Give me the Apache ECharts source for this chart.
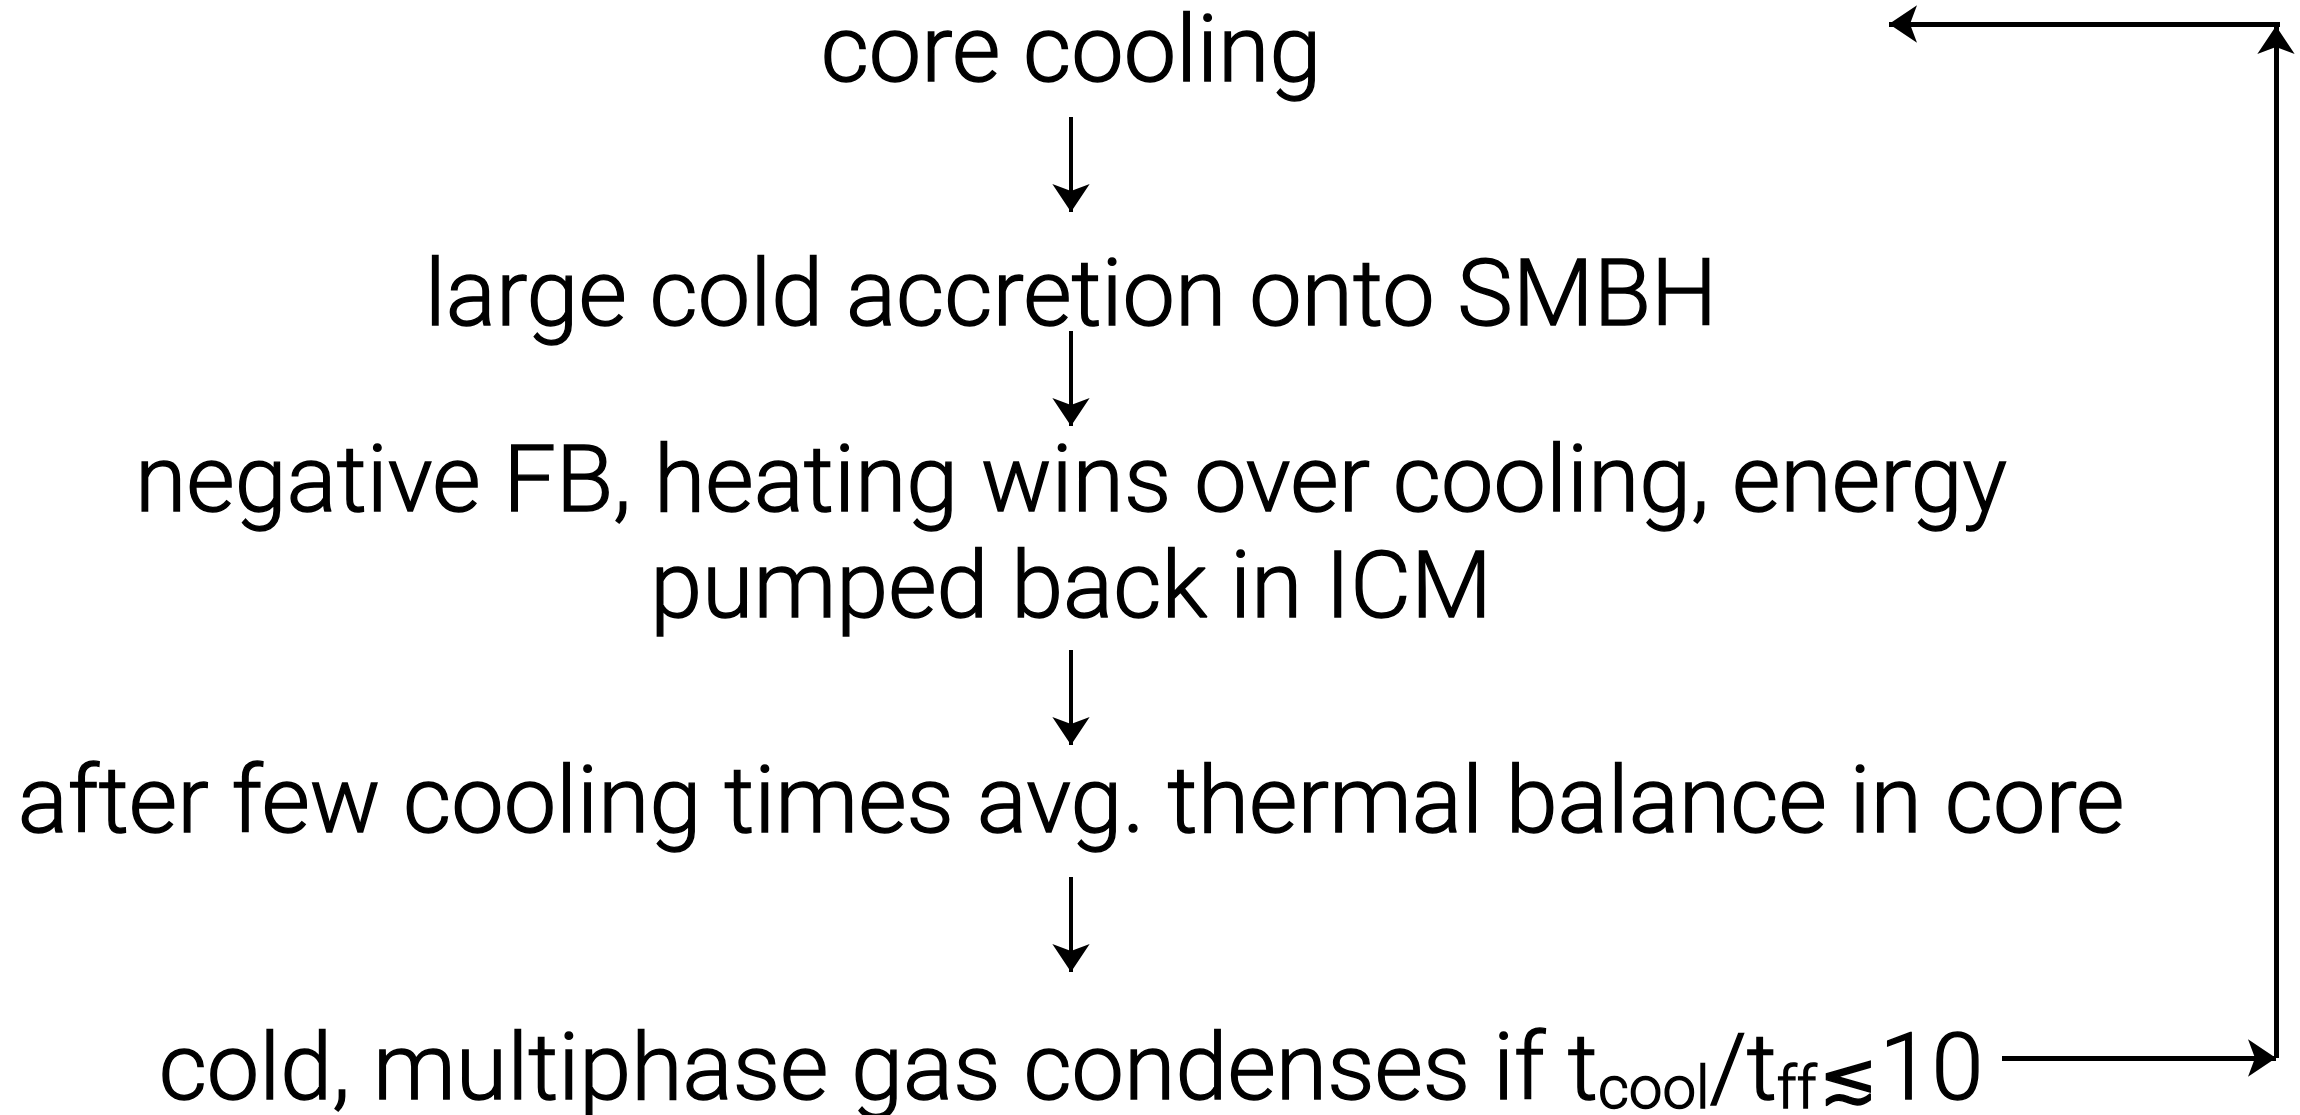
<!DOCTYPE html>
<html>
<head>
<meta charset="utf-8">
<title>core cooling cycle</title>
<script src="https://cdn.jsdelivr.net/npm/echarts@6/dist/echarts.min.js"></script>
<style>
    html, body { margin: 0; padding: 0; background: #fff; }
    #chart { width: 2300px; height: 1115px; }
</style>
</head>
<body>
<div id="chart"></div>
<script>
// steps of the cycle, top to bottom (the last one has rich-text subscripts)
const STEPS = [
    'core cooling',
    'large cold accretion onto SMBH',
    'negative FB, heating wins over cooling, energy',
    'pumped back in ICM',
    'after few cooling times avg. thermal balance in core',
    '{m|cold, multiphase gas condenses if t}{s|cool}{m|/t}{s|ff}{le|≲}{m|10}',
];
// text centre of each step, in canvas units (y grows downward)
const STEP_Y = [58, 302, 488, 594, 809, 1076];
const FLOW_X = 1071;

// down arrows between steps: [from y, tip y]
const DOWN_ARROWS = [
    [117, 212],
    [331, 426],
    [650, 745],
    [877, 972],
];

// feedback loop on the right: [[x1, y1], [x2, tip]]
const LOOP = [
    [[2002, 1058], [2276, 1058]],
    [[2276, 1058], [2276, 26]],
    [[2280, 24], [1889, 24]],
];

const HEAD = 28;
const FONT = "Roboto, 'Liberation Sans', 'DejaVu Sans', sans-serif";
const SIZE = 93.5;
const WEIGHT = 300;
// Roboto Light is a touch thinner than the original face, so give it a hairline outline
const EDGE = { textBorderColor: '#000', textBorderWidth: 1.4 };

const chart = echarts.init(document.getElementById('chart'), null, { renderer: 'canvas' });

chart.setOption({
    backgroundColor: '#fff',
    animation: false,
    grid: { left: 0, right: 0, top: 0, bottom: 0 },
    xAxis: { type: 'value', min: 0, max: 2300, show: false },
    yAxis: { type: 'value', min: 0, max: 1115, inverse: true, show: false },
    series: [
        {
            type: 'scatter',
            symbolSize: 0,
            silent: true,
            itemStyle: { opacity: 1 },
            data: STEPS.map((s, i) => ({ value: [FLOW_X, STEP_Y[i]], name: s })),
            label: {
                show: true,
                position: 'inside',
                align: 'center',
                verticalAlign: 'middle',
                formatter: p => p.name,
                color: '#000',
                opacity: 1,
                fontFamily: FONT,
                fontWeight: WEIGHT,
                fontSize: SIZE,
                lineHeight: SIZE,
                ...EDGE,
                rich: {
                    m: { fontFamily: FONT, fontWeight: WEIGHT, fontSize: SIZE, lineHeight: SIZE, color: '#000', verticalAlign: 'bottom', ...EDGE },
                    s: { fontFamily: FONT, fontWeight: WEIGHT, fontSize: 60, lineHeight: 56, color: '#000', verticalAlign: 'bottom', ...EDGE },
                    le: { fontFamily: "'DejaVu Sans'", fontWeight: 200, fontSize: 70, lineHeight: 72, color: '#000', verticalAlign: 'bottom', padding: [0, 2, 4, 2], ...EDGE },
                },
            },
        },
        {
            type: 'lines',
            coordinateSystem: 'cartesian2d',
            silent: true,
            symbol: ['none', 'arrow'],
            symbolSize: HEAD,
            lineStyle: { color: '#000', width: 4, opacity: 1 },
            data: DOWN_ARROWS.map(([y1, y2]) => ({ coords: [[FLOW_X, y1], [FLOW_X, y2]] })),
        },
        {
            type: 'lines',
            coordinateSystem: 'cartesian2d',
            silent: true,
            symbol: ['none', 'arrow'],
            symbolSize: HEAD,
            lineStyle: { color: '#000', width: 5, opacity: 1 },
            data: LOOP.map(([a, b]) => ({ coords: [a, b] })),
        },
    ],
});

window.addEventListener('resize', () => chart.resize());
</script>
</body>
</html>
